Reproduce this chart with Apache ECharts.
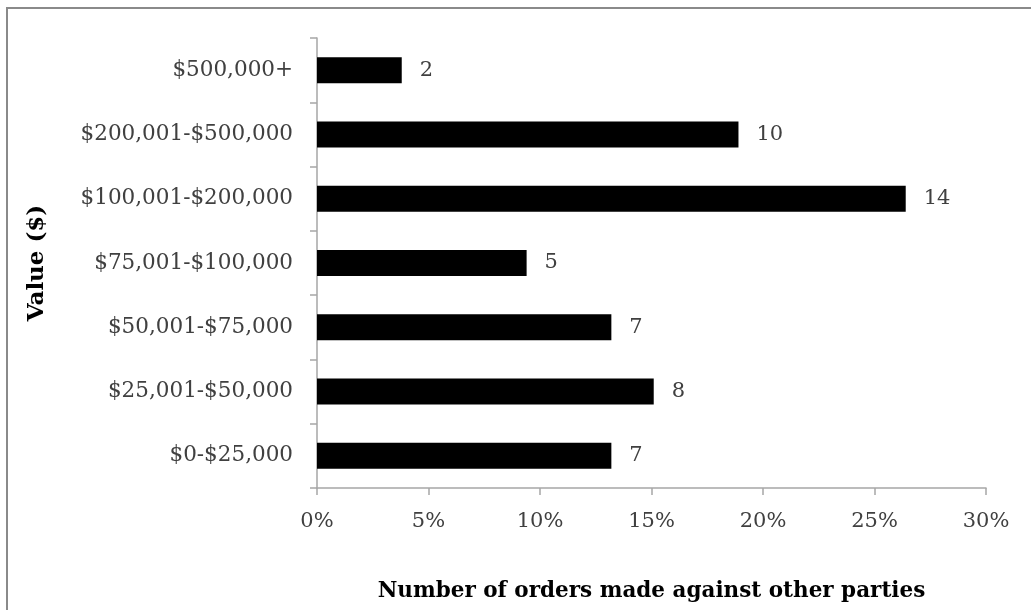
<!DOCTYPE html>
<html><head><meta charset="utf-8">
<script src="https://cdn.jsdelivr.net/npm/echarts@6/dist/echarts.min.js"></script>
<style>html,body{margin:0;padding:0;background:#fff}#c{width:1031px;height:610px}</style>
</head><body><div id="c"></div>
<script>
const categories = ['$500,000+','$200,001-$500,000','$100,001-$200,000','$75,001-$100,000','$50,001-$75,000','$25,001-$50,000','$0-$25,000'];
const percentValues = [3.8, 18.9, 26.4, 9.4, 13.2, 15.1, 13.2];
const orderCounts = [2, 10, 14, 5, 7, 8, 7];
const xTicks = [0, 5, 10, 15, 20, 25, 30];

const font = 'DejaVu Serif';
const chart = echarts.init(document.getElementById('c'));
chart.setOption({
  animation: false,
  backgroundColor: '#fff',
  graphic: [{type:'rect', shape:{x:7,y:8,width:1040,height:620}, style:{fill:'none', stroke:'#8a8a8a', lineWidth:2}, silent:true}],
  grid: {left:317, right:45, top:38, bottom:122},
  xAxis: {
    type:'value', min:xTicks[0], max:xTicks[xTicks.length-1], interval:5,
    axisLine:{show:true, lineStyle:{color:'#a6a6a6', width:1.5}},
    axisTick:{show:true, length:7, lineStyle:{color:'#a6a6a6', width:1.5}},
    splitLine:{show:false},
    axisLabel:{formatter:'{value}%', color:'#404040', fontFamily:font, fontSize:21, margin:23},
    name:'Number of orders made against other parties', nameLocation:'middle', nameGap:92,
    nameTextStyle:{fontFamily:font, fontWeight:'bold', fontSize:21.5, color:'#000'}
  },
  yAxis: {
    type:'category', data:categories, inverse:true,
    axisLine:{show:true, lineStyle:{color:'#a6a6a6', width:1.5}},
    axisTick:{show:true, length:7, lineStyle:{color:'#a6a6a6', width:1.5}},
    axisLabel:{color:'#404040', fontFamily:font, fontSize:21.5, margin:24},
    name:'Value ($)', nameLocation:'middle', nameGap:268, nameRotate:90,
    nameTextStyle:{fontFamily:font, fontWeight:'bold', fontSize:23, color:'#000'}
  },
  series: [{
    type:'bar', barWidth:26,
    data: percentValues,
    itemStyle:{color:'#000'},
    label:{show:true, position:'right', distance:18, color:'#404040', fontFamily:font, fontSize:21,
      formatter: p => String(orderCounts[p.dataIndex])}
  }]
});
</script></body></html>
